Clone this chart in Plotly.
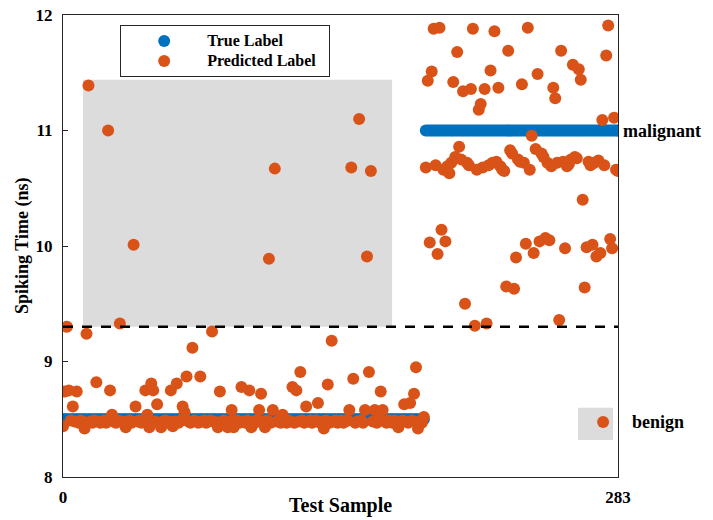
import plotly.graph_objects as go

# ---- data -------------------------------------------------------------
n_benign = 185          # samples 0..184 are benign
n_malignant = 99        # samples 185..283 are malignant
true_benign = 8.5
true_malignant = 11.0
threshold = 9.3

predicted_benign = [
    8.44, 8.74, 9.30, 8.75, 8.49, 8.61, 8.48, 8.74, 8.47, 8.49,
    8.48, 8.42, 9.24, 11.39, 8.48, 8.47, 8.49, 8.82, 8.48, 8.47,
    8.48, 8.49, 8.47, 11.00, 8.75, 8.54, 8.48, 8.47, 8.49, 9.33,
    8.48, 8.47, 8.43, 8.48, 8.49, 8.47, 10.01, 8.61, 8.48, 8.49,
    8.47, 8.48, 8.75, 8.54, 8.43, 8.81, 8.75, 8.48, 8.63, 8.47,
    8.43, 8.48, 8.49, 8.47, 8.48, 8.75, 8.44, 8.48, 8.81, 8.47,
    8.49, 8.61, 8.56, 8.87, 8.48, 8.47, 9.12, 8.49, 8.48, 8.47,
    8.87, 8.48, 8.49, 8.47, 8.48, 8.49, 9.26, 8.48, 8.47, 8.43,
    8.74, 8.48, 8.49, 8.47, 8.43, 8.48, 8.58, 8.43, 8.48, 8.49,
    8.47, 8.78, 8.48, 8.47, 8.49, 8.75, 8.43, 8.48, 8.47, 8.49,
    8.58, 8.72, 8.48, 8.43, 8.49, 9.89, 8.47, 8.58, 10.67, 8.48,
    8.49, 8.47, 8.54, 8.48, 8.47, 8.49, 8.48, 8.78, 8.47, 8.75,
    8.48, 8.91, 8.49, 8.47, 8.61, 8.48, 8.49, 8.47, 8.48, 8.49,
    8.64, 8.47, 8.48, 8.42, 8.49, 8.80, 8.47, 9.18, 8.48, 8.49,
    8.47, 8.48, 8.49, 8.47, 8.48, 8.49, 8.58, 10.68, 8.85, 8.47,
    8.48, 11.10, 8.49, 8.47, 8.58, 9.91, 8.91, 10.65, 8.48, 8.58,
    8.47, 8.49, 8.74, 8.58, 8.48, 8.47, 8.49, 8.48, 8.47, 8.49,
    8.48, 8.43, 8.47, 8.49, 8.63, 8.48, 8.47, 8.64, 8.49, 8.72,
    8.95, 8.42, 8.48, 8.47, 8.52,
]

predicted_malignant = [
    10.68, 11.43, 10.03, 11.51, 11.88, 10.70, 9.93, 11.89, 10.14, 10.66,
    10.04, 10.69, 10.63, 10.72, 11.42, 10.77, 11.68, 10.86, 10.75, 11.34,
    9.50, 10.72, 10.70, 11.36, 11.88, 9.31, 10.66, 11.18, 11.23, 10.68,
    11.36, 9.33, 10.70, 11.52, 10.72, 11.86, 10.73, 11.37, 10.69, 10.66,
    10.65, 9.65, 11.69, 10.83, 10.80, 9.63, 9.90, 10.75, 10.73, 11.40,
    10.72, 10.02, 11.89, 10.66, 10.955, 9.94, 10.84, 11.49, 10.04, 10.80,
    10.77, 10.07, 10.72, 10.05, 10.69, 11.37, 11.28, 10.72, 9.36, 11.69,
    10.73, 9.98, 10.69, 10.71, 10.75, 11.57, 10.77, 10.76, 11.53, 11.44,
    10.40, 9.64, 9.99, 10.73, 10.70, 10.01, 10.72, 9.91, 10.74, 9.94,
    11.09, 10.70, 11.65, 11.91, 10.06, 9.98, 11.11, 10.66, 10.65,
]

x_tick_values = [0, 283]
x_tick_labels = ["0", "283"]
y_tick_values = [8, 9, 10, 11, 12]

# shaded region of benign samples predicted above the threshold
shade_x = [10.2, 167.8]
shade_y = [9.3, 11.44]

# small key swatch next to the "benign" label
key_box_x = [262.6, 280.5]
key_box_y = [8.32, 8.60]
key_dot_x = [275.4]
key_dot_y = [8.476]

# ---- derived arrays ---------------------------------------------------
samples = list(range(n_benign + n_malignant))
true_labels = [true_benign] * n_benign + [true_malignant] * n_malignant
predicted = predicted_benign + predicted_malignant

BLUE = "#0072BD"
ORANGE = "#D95319"
GRAY = "#DCDCDC"
FONT = "Liberation Serif"
NBSP = "\u00a0"


def legend_name(text, pad=0):
    # legend rows are spaced by the legend font size; the label itself is larger
    return '<span style="font-size:16px"><b>' + text + "</b>" + NBSP * pad + "</span>"


fig = go.Figure()

fig.add_trace(go.Scatter(
    x=samples, y=true_labels, mode="markers", name=legend_name("True Label"),
    marker=dict(color=BLUE, size=12, line=dict(width=0)),
))
fig.add_trace(go.Scatter(
    x=samples, y=predicted, mode="markers",
    name=legend_name("Predicted Label", pad=2),
    marker=dict(color=ORANGE, size=12, line=dict(width=0)),
))
fig.add_trace(go.Scatter(
    x=key_dot_x, y=key_dot_y, mode="markers", showlegend=False,
    marker=dict(color=ORANGE, size=12, line=dict(width=0)),
))

# gray regions
fig.add_shape(type="rect", xref="x", yref="y",
              x0=shade_x[0], x1=shade_x[1], y0=shade_y[0], y1=shade_y[1],
              fillcolor=GRAY, line=dict(width=0), layer="below")
fig.add_shape(type="rect", xref="x", yref="y",
              x0=key_box_x[0], x1=key_box_x[1], y0=key_box_y[0], y1=key_box_y[1],
              fillcolor=GRAY, line=dict(width=0), layer="below")

# decision threshold
fig.add_shape(type="line", xref="x", yref="y",
              x0=0, x1=283, y0=threshold, y1=threshold,
              line=dict(color="black", width=2.5, dash="10px,9px"))

axis_common = dict(
    showgrid=False, zeroline=False, showline=True, mirror=True,
    linecolor="#262626", linewidth=1.2, ticks="inside", ticklen=5,
    tickcolor="#262626", automargin=False,
    tickfont=dict(family=FONT, size=17, color="black", weight="bold"),
)

fig.update_xaxes(range=[0, 283], tickvals=x_tick_values, ticktext=x_tick_labels,
                 ticklabelstandoff=4, **axis_common)
fig.update_yaxes(range=[8, 12], tickvals=y_tick_values,
                 ticklabelstandoff=6, **axis_common)

fig.update_layout(
    width=713, height=520,
    margin=dict(l=63, r=95, t=15, b=43),
    plot_bgcolor="white", paper_bgcolor="white",
    font=dict(family=FONT, color="black"),
    legend=dict(
        x=0.103, y=0.978, xanchor="left", yanchor="top",
        bordercolor="#262626", borderwidth=1, bgcolor="white",
        itemwidth=76, font=dict(family=FONT, size=13, color="black"),
        tracegroupgap=0,
    ),
    annotations=[
        dict(text="<b>Test Sample</b>", xref="paper", yref="paper",
             x=0.5, y=0, yanchor="top", yshift=-15, showarrow=False,
             font=dict(family=FONT, size=20, color="black")),
        dict(text="<b>Spiking Time (ns)</b>", xref="paper", yref="paper",
             x=0, y=0.5, xanchor="center", xshift=-41, textangle=-90,
             showarrow=False, font=dict(family=FONT, size=18, color="black")),
        dict(text="<b>malignant</b>", xref="paper", yref="y",
             x=1, y=true_malignant, xanchor="left", xshift=3, showarrow=False,
             font=dict(family=FONT, size=18, color="black")),
        dict(text="<b>benign</b>", xref="paper", yref="y",
             x=1, y=8.48, xanchor="left", xshift=12, showarrow=False,
             font=dict(family=FONT, size=18, color="black")),
    ],
)

fig.write_html("out.html")
